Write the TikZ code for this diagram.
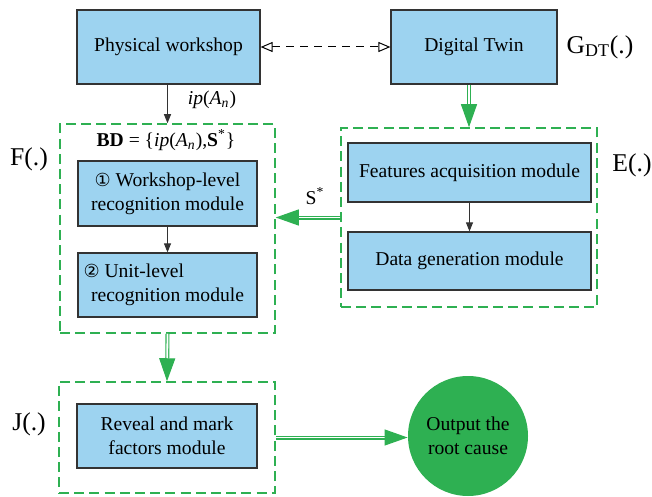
\documentclass[tikz,border=0pt]{standalone}
\usepackage{fontspec}
\setmainfont{Liberation Serif}
\newfontfamily\circfont{DejaVu Sans}
\usepackage{tikz}
\usetikzlibrary{positioning,arrows.meta}
\definecolor{boxblue}{RGB}{157,211,240}
\definecolor{tgreen}{RGB}{46,176,82}
\tikzset{module/.style = {draw=black!80,fill=boxblue,line width=0.6pt,align=center,inner sep=0pt,font=\fontsize{9.8}{12}\selectfont},
         frame/.style = {draw=tgreen,dash pattern=on 5pt off 2.6pt,line width=0.75pt,inner sep=0pt},
         gbar/.style = {draw=tgreen,double=white,double distance=0.9pt,line width=0.55pt,-{Triangle[length=11.5pt,width=8pt]}},
         link/.style = {draw=black!80,line width=0.5pt,-{Triangle[length=4.5pt,width=3.5pt]}},
         tag/.style = {font=\fontsize{12.8}{14}\selectfont}}

\begin{document}
\begin{tikzpicture}[x=0.5pt,y=-0.5pt,font=\fontsize{9.8}{12}\selectfont]
  \useasboundingbox (0,0) rectangle (652,497);
  \node [module,minimum width=91.5pt,minimum height=37pt] (pw) at (168.5,47) {Physical workshop};
  \node [module,minimum width=83pt,minimum height=37pt] (dt) at (474,47) {Digital Twin};
  \node [frame,minimum width=107.5pt,minimum height=104.5pt] (Ffr) at (167.5,228.5) {};
  \node [frame,minimum width=128pt,minimum height=89.5pt] (Efr) at (469,217.5) {};
  \node [frame,minimum width=108pt,minimum height=55.5pt] (Jfr) at (167,437.5) {};
  \node [module,minimum width=89.5pt,minimum height=32.5pt] (wl) at (167.5,193.5) {{\circfont\fontsize{9}{12}\selectfont ①} Workshop-level\\recognition module};
  \node [module,minimum width=89.5pt,minimum height=32pt] (ul) at (167.5,285) {{\circfont\fontsize{9}{12}\selectfont ②} Unit-level\phantom{kshop-le}\\recognition module};
  \node [module,minimum width=121.5pt,minimum height=29.5pt] (fa) at (469.5,172.5) {Features acquisition module};
  \node [module,minimum width=121.5pt,minimum height=29pt] (dg) at (469.5,261) {Data generation module};
  \node [module,minimum width=90pt,minimum height=32pt] (rm) at (167,436) {Reveal and mark\\factors module};
  \node [circle,fill=tgreen,minimum size=60pt,inner sep=0pt,align=center] (out) at (468,436) {Output the\\root cause};

  \node [tag] (Ftag) at (29,159) {F(.)};
  \node [tag] (Etag) at (632,165) {E(.)};
  \node [tag] (Jtag) at (29,424) {J(.)};
  \node [tag] (Gtag) at (600,47) {G\textsubscript{DT}(.)};
  \node (bd) at (166,140) {\textbf{BD} = \{\textit{ip}(\textit{A}\textsubscript{\textit{n}}),\textbf{S}\textsuperscript{*}\}};
  \node (ip) at (212,100) {\textit{ip}(\textit{A}\textsubscript{\textit{n}})};
  \node (sstar) at (315,196) {S\textsuperscript{*}};

  \draw [dash pattern=on 4pt off 3pt,line width=0.5pt,{Triangle[open,length=6pt,width=5pt,fill=white]}-{Triangle[open,length=6pt,width=5pt,fill=white]}] (pw) -- (dt);
  \draw [link] (pw.south -| Ffr.north) -- (Ffr.north);
  \draw [link] (wl) -- (ul);
  \draw [link] (fa) -- (dg);
  \draw [gbar] (Efr.north |- dt.south) -- (Efr.north);
  \draw [gbar] (Efr.west) -- (Efr.west -| Ffr.east);
  \draw [gbar] (Ffr.south) -- (Jfr.north);
  \draw [gbar] (Jfr.east) -- (Jfr.east -| out.west);
\end{tikzpicture}
\end{document}
